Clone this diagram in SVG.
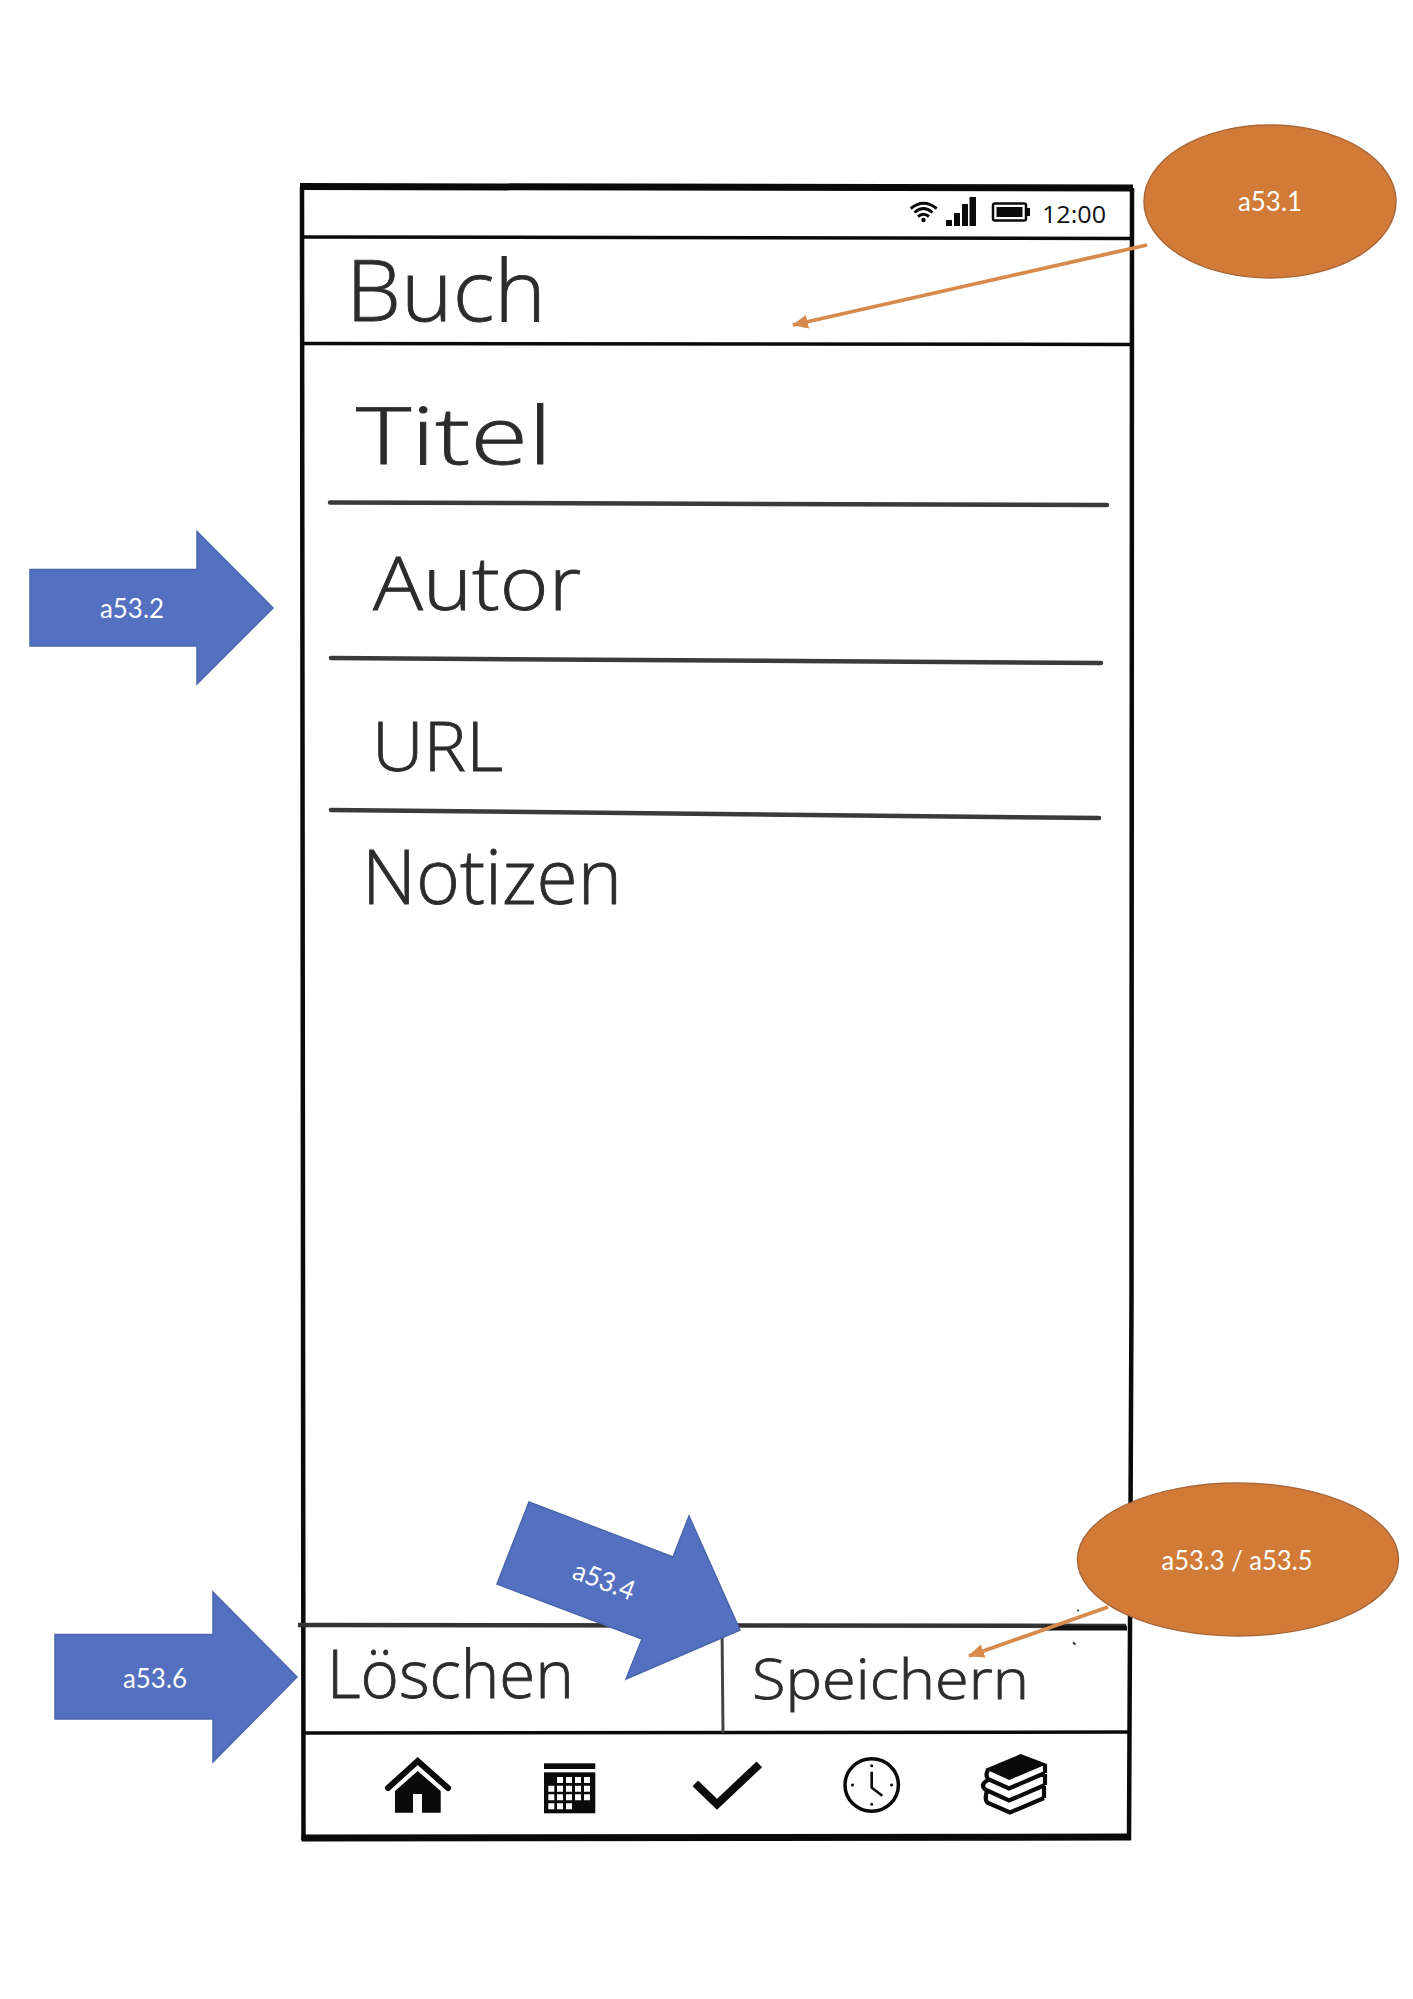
<svg xmlns="http://www.w3.org/2000/svg" width="1413" height="1999" viewBox="0 0 1413 1999">
<style>
.frame{fill:none;stroke:#0a0a0a}
.rule{fill:none;stroke:#3a3a3a;stroke-width:4.500;stroke-linecap:round}
.hand{font-family:"Open Sans","Liberation Sans",sans-serif;font-weight:300;fill:#2c2c2c;stroke:#2c2c2c;stroke-width:.8}
.tag{font-family:Lato,"Liberation Sans",sans-serif;font-size:27px;fill:#fff;text-anchor:middle}
.oval{fill:#d27b38;stroke:#a9683a;stroke-width:1.5}
.arrow{fill:#5470c0;stroke:#4a66ac;stroke-width:1.5}
.link{fill:none;stroke:#d78a4c;stroke-width:3.800;marker-end:url(#head)}
.icon{fill:#0a0a0a}
.line-icon{fill:none;stroke:#0a0a0a}
</style>
<defs>
<marker id="head" markerUnits="userSpaceOnUse" markerWidth="17" markerHeight="14" refX="15" refY="7" orient="auto">
<path d="M0,0 L16,7 L0,14 Z" fill="#d78a4c"/>
</marker>
</defs>
<rect width="1413" height="1999" fill="#fff"/>
<g id="phone">
<path class="frame" stroke-width="7" d="M300,186.500 L1133,188"/>
<path class="frame" stroke-width="4.500" d="M302,187 L303.500,1840 M1132,188 L1131.500,1300 L1129,1840"/>
<path class="frame" stroke-width="7" d="M301.500,1838 L1131,1837"/>
<path class="frame" stroke-width="3.500" d="M304,237 L1130,238.500 M304,343.500 L1130,344.500"/>
<path class="rule" d="M330,502.500 L1107,505"/>
<path class="rule" d="M331,658 L1101,663"/>
<path class="rule" d="M331,810 L1099,818"/>
<path d="M298,1625 L1126,1626" fill="none" stroke="#333" stroke-width="4.500"/>
<path d="M1045,1628 L1127,1628" fill="none" stroke="#111" stroke-width="5"/>
<path class="frame" stroke-width="3.500" d="M304,1733 L1129,1732"/>
<path d="M722,1626 L723,1733" fill="none" stroke="#444" stroke-width="3"/>
<path d="M1077.500,1610 l1,1 M1073,1642.500 l2.500,2" stroke="#222" stroke-width="1.800" fill="none"/>
</g>
<g id="status-bar">
<path class="line-icon" stroke-width="3" d="M910.700,208.500 Q923.500,198 936.700,208.500 M914.500,212.500 Q923.500,204.500 932.500,212.500 M918,216.500 Q923.500,212 929,216.500"/>
<circle class="icon" cx="923.500" cy="220" r="2.200"/>
<path class="icon" d="M946,220 h6 v6 h-6 Z M954,213 h6 v13 h-6 Z M962,204 h6 v22 h-6 Z M969.500,197 h6.500 v29 h-6.500 Z"/>
<rect x="993" y="203.500" width="33" height="17" rx="2" fill="#fff" stroke="#0a0a0a" stroke-width="2.500"/>
<rect class="icon" x="996.500" y="207" width="26" height="10"/>
<rect class="icon" x="1027" y="208" width="3" height="8"/>
<text x="1042" y="223" font-family="'Open Sans','Liberation Sans',sans-serif" font-size="23" fill="#111" textLength="64" lengthAdjust="spacingAndGlyphs">12:00</text>
</g>
<g id="labels">
<text class="hand" x="346" y="321" font-size="84" textLength="200" lengthAdjust="spacingAndGlyphs">Buch</text>
<text class="hand" x="356" y="464" font-size="80" textLength="196" lengthAdjust="spacingAndGlyphs">Titel</text>
<text class="hand" x="373" y="610" font-size="74" textLength="208" lengthAdjust="spacingAndGlyphs">Autor</text>
<text class="hand" x="372" y="771" font-size="68" textLength="131" lengthAdjust="spacingAndGlyphs">URL</text>
<text class="hand" x="362" y="904" font-size="75" textLength="260" lengthAdjust="spacingAndGlyphs">Notizen</text>
<text class="hand" x="327" y="1698" font-size="66" textLength="247" lengthAdjust="spacingAndGlyphs">Löschen</text>
<text class="hand" x="752" y="1699" font-size="56" textLength="277" lengthAdjust="spacingAndGlyphs">Speichern</text>
</g>
<g id="nav-home">
<path class="line-icon" stroke-width="6" stroke-linecap="round" d="M388,1788 L417.700,1761 L448,1788"/>
<path class="icon" fill-rule="evenodd" d="M417.700,1771 L440.700,1791 V1812.700 H395 V1791 Z M413,1794 V1812.700 H422 V1794 Z"/>
</g>
<g id="nav-calendar">
<rect class="icon" x="544" y="1763.300" width="51.300" height="5.700"/>
<rect class="icon" x="544" y="1772.300" width="51.300" height="41"/>
<path fill="#fff" d="M557,1777 h6 v6 h-6 Z M566,1777 h6 v6 h-6 Z M575,1777 h6 v6 h-6 Z M584,1777 h6 v6 h-6 Z M548.300,1785.700 h6 v6 h-6 Z M557,1785.700 h6 v6 h-6 Z M566,1785.700 h6 v6 h-6 Z M575,1785.700 h6 v6 h-6 Z M584,1785.700 h6 v6 h-6 Z M548.300,1794.300 h6 v6 h-6 Z M557,1794.300 h6 v6 h-6 Z M566,1794.300 h6 v6 h-6 Z M575,1794.300 h6 v6 h-6 Z M584,1794.300 h6 v6 h-6 Z M548.300,1803.300 h6 v6 h-6 Z M557,1803.300 h6 v6 h-6 Z M566,1803.300 h6 v6 h-6 Z"/>
</g>
<g id="nav-check">
<path class="line-icon" stroke-width="8" d="M695.300,1783.300 L717,1804.300 L759.300,1764.300"/>
</g>
<g id="nav-clock">
<ellipse class="line-icon" cx="871.700" cy="1785" rx="26.700" ry="26.300" stroke-width="3.500"/>
<path class="line-icon" stroke-width="2.600" d="M871.700,1771.700 V1787.700 L882.300,1795.700"/>
<path class="icon" d="M870.200,1765.700 a1.500,1.500 0 1 0 3,0 a1.500,1.500 0 1 0 -3,0 Z M870.200,1804.300 a1.500,1.500 0 1 0 3,0 a1.500,1.500 0 1 0 -3,0 Z M851,1785 a1.500,1.500 0 1 0 3,0 a1.500,1.500 0 1 0 -3,0 Z M890,1785 a1.500,1.500 0 1 0 3,0 a1.500,1.500 0 1 0 -3,0 Z"/>
</g>
<g id="nav-books">
<path class="icon" d="M985,1769 L1020.700,1754 L1047,1764 L1009.300,1780 Z"/>
<path class="line-icon" stroke-width="4.200" d="M988,1770 Q985,1775 988,1779 L1009,1788.500 L1045,1773 M1045,1764 V1773 M988,1780 Q979,1785 986,1790 L1009,1800.500 L1045,1785 M1045,1774 V1785 M987,1791 Q984,1800 988,1803 L1010,1812.500 L1044,1798 M1044,1786 V1798"/>
</g>
<g id="connectors">
<path class="link" d="M1147,245 L793,325"/>
<path class="link" d="M1108,1607 L969,1656"/>
</g>
<g id="a53-1">
<ellipse class="oval" cx="1270" cy="201.500" rx="126" ry="76.500"/>
<text class="tag" x="1270" y="211" textLength="64" lengthAdjust="spacingAndGlyphs">a53.1</text>
</g>
<g id="a53-3-5">
<ellipse class="oval" cx="1238" cy="1559.500" rx="160.500" ry="76.500"/>
<text class="tag" x="1237" y="1570" textLength="151" lengthAdjust="spacingAndGlyphs">a53.3 / a53.5</text>
</g>
<g id="a53-2">
<path class="arrow" d="M30,569.500 H197 V531.500 L273,608 L197,684 V646 H30 Z"/>
<text class="tag" x="132" y="618" textLength="64" lengthAdjust="spacingAndGlyphs">a53.2</text>
</g>
<g id="a53-6">
<path class="arrow" d="M55,1634.500 H213 V1592 L297,1677 L213,1762 V1719 H55 Z"/>
<text class="tag" x="155" y="1688" textLength="64" lengthAdjust="spacingAndGlyphs">a53.6</text>
</g>
<g id="a53-4">
<path class="arrow" d="M529,1502 L673,1557 L689,1516 L740,1630 L626,1679 L642,1639 L497,1584 Z"/>
<text class="tag" transform="translate(604,1581) rotate(21)" x="0" y="9" textLength="64" lengthAdjust="spacingAndGlyphs">a53.4</text>
</g>
</svg>
